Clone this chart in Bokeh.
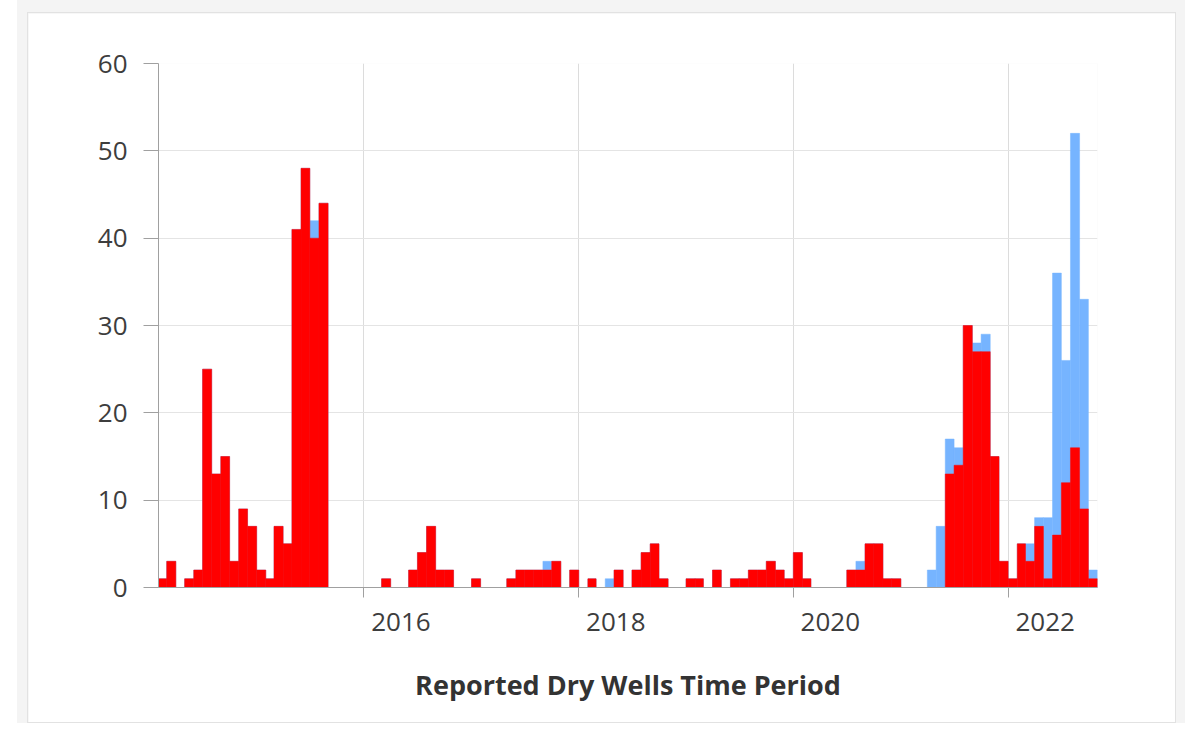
import pandas as pd
from bokeh.plotting import figure
from bokeh.layouts import column
from bokeh.models import (ColumnDataSource, FixedTicker, Range1d, DatetimeAxis,
                          CustomJSTickFormatter)
from bokeh.embed import file_html
from bokeh.resources import INLINE

# ---- data (monthly counts, Feb 2014 .. Oct 2022) ----
first_month = "2014-02-01"
red_counts = [
    1, 3, 0, 1, 2, 25, 13, 15, 3, 9, 7,                 # 2014 Feb-Dec
    2, 1, 7, 5, 41, 48, 40, 44, 0, 0, 0, 0,             # 2015
    0, 0, 1, 0, 0, 2, 4, 7, 2, 2, 0, 0,                 # 2016
    1, 0, 0, 0, 1, 2, 2, 2, 2, 3, 0, 2,                 # 2017
    0, 1, 0, 0, 2, 0, 2, 4, 5, 1, 0, 0,                 # 2018
    1, 1, 0, 2, 0, 1, 1, 2, 2, 3, 2, 1,                 # 2019
    4, 1, 0, 0, 0, 0, 2, 2, 5, 5, 1, 1,                 # 2020
    0, 0, 0, 0, 0, 13, 14, 30, 27, 27, 15, 3,           # 2021
    1, 5, 3, 7, 1, 6, 12, 16, 9, 1,                     # 2022 Jan-Oct
]
blue_counts = [
    1, 3, 0, 1, 2, 25, 13, 15, 3, 9, 7,
    2, 1, 7, 5, 41, 48, 42, 44, 0, 0, 0, 0,
    0, 0, 1, 0, 0, 2, 4, 7, 2, 2, 0, 0,
    1, 0, 0, 0, 1, 2, 2, 2, 3, 3, 0, 2,
    0, 1, 0, 1, 2, 0, 2, 4, 5, 1, 0, 0,
    1, 1, 0, 2, 0, 1, 1, 2, 2, 3, 2, 1,
    4, 1, 0, 0, 0, 0, 2, 3, 5, 5, 1, 1,
    0, 0, 0, 2, 7, 17, 16, 30, 28, 29, 15, 3,
    1, 5, 5, 8, 8, 36, 26, 52, 33, 2,
]
x_tick_years = [2016, 2018, 2020, 2022]
y_ticks = [0, 10, 20, 30, 40, 50, 60]
x_label = "Reported Dry Wells Time Period"

RED = "#ff0000"
BLUE = "#76b4ff"
TICK_COLOR = "#3d3d3d"
AXIS_COLOR = "#a0a0a0"
GRID_COLOR = "#e4e4e4"
LABEL_SHIFT_PX = 37      # year labels sit to the right of their tick

months = pd.date_range(first_month, periods=len(red_counts), freq="MS")
month_ends = months + pd.offsets.MonthBegin(1)
src = ColumnDataSource(dict(left=months, right=month_ends,
                            red=red_counts, blue=blue_counts))

tick_ms = [pd.Timestamp(f"{y}-01-01").value / 1e6 for y in x_tick_years]

# card: page x 27..1176, y 12..723
W, H = 1149, 711
MB_L, MB_R, MB_T, MB_B = 130, 80, 50, 137
x0_ms = months[0].value / 1e6
x1_ms = month_ends[-1].value / 1e6
px_per_ms = (W - MB_L - MB_R) / (x1_ms - x0_ms)
label_ms = [t + LABEL_SHIFT_PX / px_per_ms for t in tick_ms]

p = figure(width=W, height=H, x_axis_type="datetime",
           output_backend="svg", toolbar_location=None,
           x_range=Range1d(months[0], month_ends[-1]),
           y_range=Range1d(0, 60),
           min_border_left=MB_L, min_border_right=MB_R,
           min_border_top=MB_T, min_border_bottom=MB_B)

p.border_fill_color = "white"
p.background_fill_color = "white"
p.outline_line_color = None
p.styles = {"border": "1px solid #e2e2e2"}

p.quad(left="left", right="right", bottom=0, top="blue", source=src,
       fill_color=BLUE, line_color=BLUE, line_width=0.5)
p.quad(left="left", right="right", bottom=0, top="red", source=src,
       fill_color=RED, line_color=RED, line_width=0.5)

# x axis: ticks + line
xa = p.xaxis[0]
xa.ticker = FixedTicker(ticks=tick_ms)
xa.formatter = CustomJSTickFormatter(code="return ''")
xa.major_label_text_font_size = "1px"
xa.major_label_standoff = 0
xa.major_tick_out = 10
xa.major_tick_in = 0
xa.minor_tick_line_color = None
xa.axis_line_color = AXIS_COLOR
xa.major_tick_line_color = AXIS_COLOR

# x axis: year labels
xb = DatetimeAxis(ticker=FixedTicker(ticks=label_ms),
                  formatter=CustomJSTickFormatter(
                      code="return String(new Date(tick).getUTCFullYear())"))
xb.axis_line_color = None
xb.major_tick_line_color = None
xb.minor_tick_line_color = None
xb.major_tick_out = 0
xb.major_tick_in = 0
xb.major_label_standoff = 15
xb.major_label_text_font = "Open Sans"
xb.major_label_text_font_size = "26px"
xb.major_label_text_color = TICK_COLOR
xb.axis_label = x_label
xb.axis_label_text_font = "Open Sans"
xb.axis_label_text_font_style = "bold"
xb.axis_label_text_font_size = "27px"
xb.axis_label_text_color = "#333333"
xb.axis_label_standoff = 32
p.add_layout(xb, "below")

p.xgrid.ticker = FixedTicker(ticks=tick_ms)
p.xgrid.grid_line_color = "#dcdcdc"

# y axis
ya = p.yaxis[0]
ya.ticker = FixedTicker(ticks=y_ticks)
ya.major_tick_out = 15
ya.major_tick_in = 0
ya.minor_tick_line_color = None
ya.axis_line_color = AXIS_COLOR
ya.major_tick_line_color = AXIS_COLOR
ya.major_label_standoff = 16
ya.major_label_text_font = "Open Sans"
ya.major_label_text_font_size = "26px"
ya.major_label_text_color = TICK_COLOR

p.ygrid.ticker = FixedTicker(ticks=y_ticks)
p.ygrid.grid_line_color = GRID_COLOR

page = column(p, styles={"background-color": "#f4f4f4",
                         "margin-left": "17px",
                         "padding": "12px 9px 0px 10px"})

open("out.html", "w").write(file_html(page, INLINE))
